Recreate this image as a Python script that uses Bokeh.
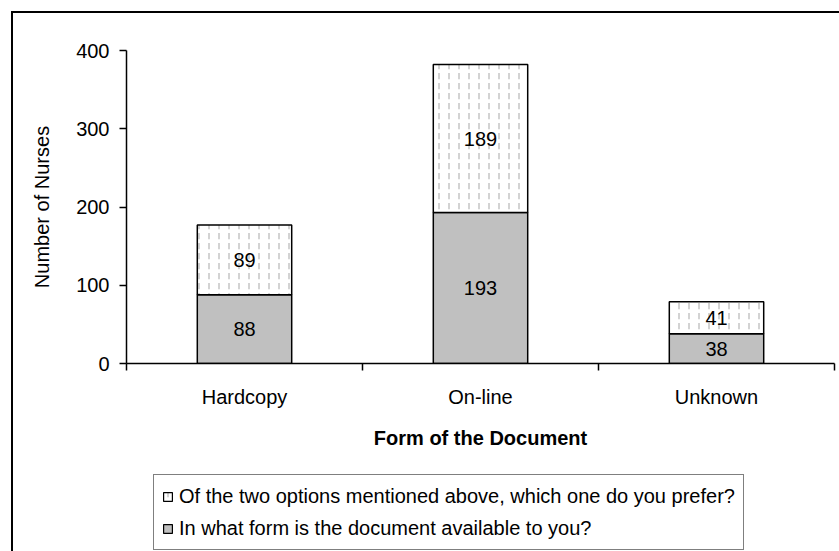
from bokeh.plotting import figure
from bokeh.layouts import column
from bokeh.models import FixedTicker, Legend, LegendItem, ColumnDataSource, Range1d
from bokeh.core.properties import value
from bokeh.embed import file_html
from bokeh.resources import INLINE

categories = ["Hardcopy", "On-line", "Unknown"]
available = [88, 193, 38]
prefer = [89, 189, 41]
series_names = ["Of the two options mentioned above, which one do you prefer?",
                "In what form is the document available to you?"]
y_ticks = [0, 100, 200, 300, 400]

FONT = "Liberation Sans"
FS = "20px"
GRAY = "#c0c0c0"
HATCH = dict(hatch_pattern="vertical_dash", hatch_color="#c4c4c4", hatch_scale=10, hatch_weight=1.5)

xs = [i + 0.5 for i in range(len(categories))]
src = ColumnDataSource(dict(
    x=xs,
    avail_top=available,
    pref_top=[a + b for a, b in zip(available, prefer)],
    avail_mid=[a / 2 for a in available],
    pref_mid=[a + b / 2 for a, b in zip(available, prefer)],
    avail_lbl=[str(v) for v in available],
    pref_lbl=[str(v) for v in prefer],
))

p = figure(width=826, height=455, output_backend="svg", toolbar_location=None,
           x_range=Range1d(0, len(categories)), y_range=Range1d(0, 400),
           min_border_left=113, min_border_top=37, min_border_right=5, min_border_bottom=105)
p.outline_line_color = None
p.xgrid.visible = False
p.ygrid.visible = False
p.background_fill_color = "white"
p.border_fill_color = "white"

r_avail = p.vbar(x="x", width=0.4, bottom=0, top="avail_top", source=src,
                 fill_color=GRAY, line_color="black", line_width=1.5)
r_pref = p.vbar(x="x", width=0.4, bottom="avail_top", top="pref_top", source=src,
                fill_color="white", line_color="black", line_width=1.5, **HATCH)

p.text(x="x", y="avail_mid", text="avail_lbl", source=src, text_align="center",
       text_baseline="middle", text_font=value(FONT), text_font_size=FS, text_color="black")
p.text(x="x", y="pref_mid", text="pref_lbl", source=src, text_align="center",
       text_baseline="middle", text_font=value(FONT), text_font_size=FS, text_color="black")

# x axis
xa = p.xaxis[0]
xa.ticker = FixedTicker(ticks=xs, minor_ticks=list(range(len(categories) + 1)))
xa.major_label_overrides = {x: c for x, c in zip(xs, categories)}
xa.major_tick_out = 0
xa.major_tick_in = 0
xa.minor_tick_out = 7
xa.minor_tick_in = 0
xa.minor_tick_line_color = "black"
xa.minor_tick_line_width = 1.5
xa.axis_line_width = 1.5
xa.axis_line_color = "black"
xa.major_label_text_font = FONT
xa.major_label_text_font_size = FS
xa.major_label_text_color = "black"
xa.major_label_standoff = 15
xa.axis_label = "Form of the Document"
xa.axis_label_text_font = FONT
xa.axis_label_text_font_size = FS
xa.axis_label_text_font_style = "bold"
xa.axis_label_text_color = "black"
xa.axis_label_standoff = 16

ya = p.yaxis[0]
ya.ticker = FixedTicker(ticks=y_ticks, minor_ticks=[])
ya.major_tick_out = 7
ya.major_tick_in = 0
ya.major_tick_line_width = 1.5
ya.major_tick_line_color = "black"
ya.axis_line_width = 1.5
ya.axis_line_color = "black"
ya.major_label_text_font = FONT
ya.major_label_text_font_size = FS
ya.major_label_text_color = "black"
ya.major_label_standoff = 10
ya.axis_label = "Number of Nurses"
ya.axis_label_text_font = FONT
ya.axis_label_text_font_size = FS
ya.axis_label_text_font_style = "normal"
ya.axis_label_text_color = "black"
ya.axis_label_standoff = 20

# legend strip below the chart (its frame is aligned with the chart's frame)
q = figure(width=826, height=83, output_backend="svg", toolbar_location=None,
           x_range=Range1d(0, len(categories)), y_range=Range1d(1000, 1001),
           min_border_left=0, min_border_right=0, min_border_top=0, min_border_bottom=0,
           x_axis_type=None, y_axis_type=None)
q.outline_line_color = None
q.xgrid.visible = False
q.ygrid.visible = False
q.background_fill_color = "white"
q.border_fill_color = "white"
# same series, drawn out of view: they only supply the legend swatches
l_pref = q.vbar(x="x", width=0.4, bottom="avail_top", top="pref_top", source=src,
                fill_color="white", line_color="black", line_width=1.2, **HATCH)
l_avail = q.vbar(x="x", width=0.4, bottom=0, top="avail_top", source=src,
                 fill_color=GRAY, line_color="black", line_width=1.2)

legend = Legend(items=[LegendItem(label=series_names[0], renderers=[l_pref], index=0),
                       LegendItem(label=series_names[1], renderers=[l_avail], index=0)],
                location=(27, 1), orientation="vertical",
                label_text_font=FONT, label_text_font_size=FS, label_text_color="black",
                glyph_width=11, glyph_height=11, label_standoff=6, padding=8, spacing=6,
                margin=0, border_line_color="black", border_line_width=1.5,
                background_fill_color="white", background_fill_alpha=1.0,
                label_height=26)
q.add_layout(legend, "center")

layout = column(p, q, spacing=0)
layout.styles = {"border-top": "2px solid black", "border-left": "2px solid black",
                 "position": "relative", "left": "11px", "top": "11px"}

open("out.html", "w").write(file_html(layout, INLINE))
